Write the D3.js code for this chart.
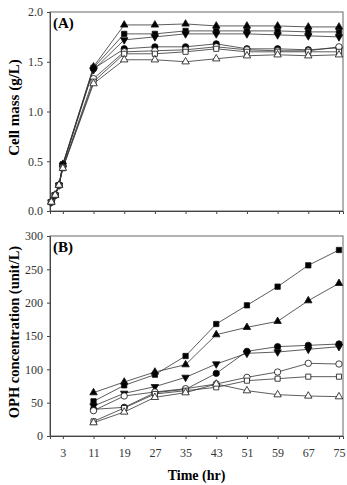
<!DOCTYPE html>
<html><head><meta charset="utf-8">
<script src="https://cdn.jsdelivr.net/npm/d3@7"></script>
<style>body{margin:0;background:#fff}svg{display:block}text{font-family:"Liberation Serif","Times New Roman",serif}</style>
</head><body>
<script>
const timesA = [0,1,2,3,11,19,27,35,43,51,59,67,75];
const timesB = [11,19,27,35,43,51,59,67,75];
const xTicks = [3,11,19,27,35,43,51,59,67,75];
const yTicksA = [0,0.5,1.0,1.5,2.0];
const yTicksB = [0,50,100,150,200,250,300];
const seriesNames = ["filledTriangle","filledSquare","filledInvTriangle","filledCircle","openCircle","openSquare","openTriangle"];
// Panel A: cell mass (g/L)
const cellFilledTriangle = [0.09,0.16,0.26,0.47,1.45,1.87,1.87,1.88,1.86,1.86,1.86,1.85,1.85];
const cellFilledSquare   = [0.09,0.16,0.26,0.47,1.44,1.78,1.78,1.81,1.81,1.81,1.81,1.80,1.80];
const cellFilledInvTri   = [0.09,0.16,0.26,0.46,1.42,1.72,1.75,1.78,1.78,1.78,1.77,1.76,1.75];
const cellFilledCircle   = [0.09,0.16,0.26,0.46,1.43,1.63,1.65,1.65,1.68,1.63,1.63,1.62,1.64];
const cellOpenCircle     = [0.09,0.16,0.26,0.44,1.33,1.60,1.61,1.62,1.65,1.62,1.61,1.61,1.65];
const cellOpenSquare     = [0.09,0.16,0.26,0.43,1.30,1.58,1.58,1.60,1.63,1.60,1.60,1.60,1.60];
const cellOpenTriangle   = [0.09,0.16,0.26,0.43,1.28,1.52,1.52,1.50,1.53,1.56,1.57,1.56,1.57];
// Panel B: OPH concentration (unit/L)
const ophFilledTriangle = [65,81,96,107,152,163,172,203,229];
const ophFilledSquare   = [52,76,92,120,168,196,224,256,279];
const ophFilledInvTri   = [45,64,74,88,108,124,126,130,134];
const ophFilledCircle   = [40,43,65,70,94,127,134,136,138];
const ophOpenCircle     = [38,60,66,71,78,88,96,109,108];
const ophOpenSquare     = [22,42,63,68,73,83,86,89,89];
const ophOpenTriangle   = [20,36,58,65,78,68,62,60,59];

const cellData = [cellFilledTriangle,cellFilledSquare,cellFilledInvTri,cellFilledCircle,cellOpenCircle,cellOpenSquare,cellOpenTriangle];
const ophData = [ophFilledTriangle,ophFilledSquare,ophFilledInvTri,ophFilledCircle,ophOpenCircle,ophOpenSquare,ophOpenTriangle];

const W=347,H=485;
const svg=d3.select("body").append("svg").attr("width",W).attr("height",H);
const left=50,right=343;
const x=d3.scaleLinear().domain([-0.35,76.05]).range([left,right]);

const markerDefs = {
  filledTriangle:{type:d3.symbolTriangle,size:24,fill:"#000",rot:0},
  filledSquare:{type:d3.symbolSquare,size:28,fill:"#000",rot:0},
  filledInvTriangle:{type:d3.symbolTriangle,size:24,fill:"#000",rot:180},
  filledCircle:{type:d3.symbolCircle,size:32,fill:"#000",rot:0},
  openCircle:{type:d3.symbolCircle,size:32,fill:"#fff",rot:0},
  openSquare:{type:d3.symbolSquare,size:26,fill:"#fff",rot:0},
  openTriangle:{type:d3.symbolTriangle,size:24,fill:"#fff",rot:0}
};

function panel(top,bottom,yDomain,yTicks,yFmt,times,data,label,title,titleSize,showXLabels){
  const y=d3.scaleLinear().domain(yDomain).range([bottom,top]);
  const g=svg.append("g");
  g.append("rect").attr("x",left).attr("y",top).attr("width",right-left).attr("height",bottom-top)
    .attr("fill","none").attr("stroke","#666").attr("stroke-width",1);
  const ya=g.append("g").attr("transform",`translate(${left},0)`)
    .call(d3.axisLeft(y).tickValues(yTicks).tickFormat(yFmt).tickSize(3).tickPadding(4));
  ya.select(".domain").attr("stroke","#444");
  ya.selectAll(".tick line").attr("stroke","#444");
  ya.selectAll("text").attr("font-size",12).attr("fill","#333").style("font-family","Liberation Serif");
  const xa=g.append("g").attr("transform",`translate(0,${bottom})`)
    .call(d3.axisBottom(x).tickValues(xTicks).tickFormat(showXLabels?d3.format("d"):"").tickSize(3).tickPadding(9));
  xa.select(".domain").attr("stroke","#444");
  xa.selectAll(".tick line").attr("stroke","#444");
  xa.selectAll("text").attr("font-size",12).attr("fill","#333").style("font-family","Liberation Serif");
  const line=d3.line().x((d,i)=>x(times[i])).y(d=>y(d));
  data.forEach((vals,si)=>{
    g.append("path").datum(vals).attr("d",line).attr("fill","none").attr("stroke","#333").attr("stroke-width",0.8);
  });
  [0,1,2,3,4,5,6].forEach(si=>{
    const m=markerDefs[seriesNames[si]];
    const sym=d3.symbol().type(m.type).size(m.size);
    g.selectAll(null).data(data[si]).enter().append("path")
      .attr("d",sym)
      .attr("transform",(d,i)=>`translate(${x(times[i])},${y(d)}) rotate(${m.rot})`)
      .attr("fill",m.fill).attr("stroke","#111").attr("stroke-width",0.8);
  });
  g.append("text").attr("x",left+3).attr("y",top+16).attr("font-size",15).attr("font-weight","bold").text(label);
  g.append("text").attr("transform",`translate(19,${(top+bottom)/2-4}) rotate(-90)`)
    .attr("text-anchor","middle").attr("font-size",titleSize).attr("font-weight","bold").text(title);
}
panel(12,211,[0,2],yTicksA,d3.format(".1f"),timesA,cellData,"(A)","Cell mass (g/L)",15,false);
panel(236,436,[0,300],yTicksB,d3.format("d"),timesB,ophData,"(B)","OPH concentration (unit/L)",14.5,true);
svg.append("text").attr("x",(left+right)/2).attr("y",480).attr("text-anchor","middle")
  .attr("font-size",14).attr("font-weight","bold").text("Time (hr)");
</script>
</body></html>
